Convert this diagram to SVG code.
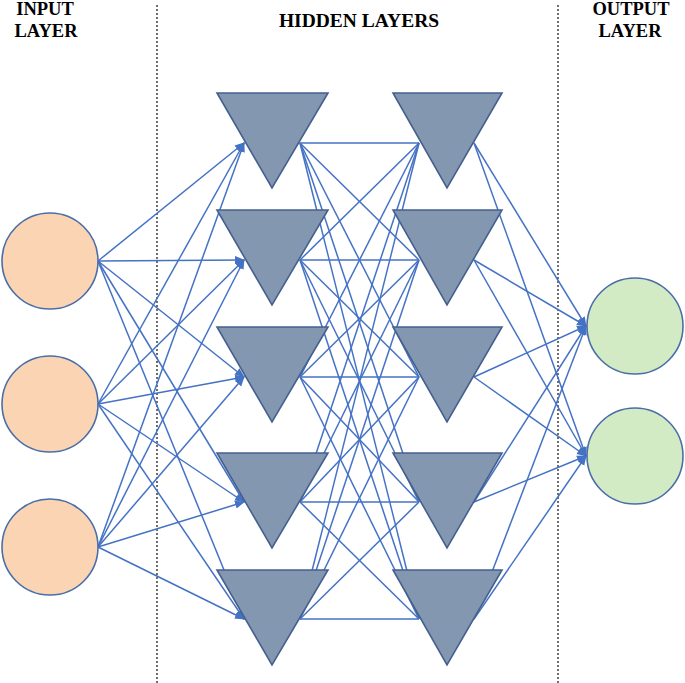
<svg xmlns="http://www.w3.org/2000/svg" width="685" height="683" viewBox="0 0 685 683">
<style>
.t{font-family:"Liberation Serif","Times New Roman",serif;font-weight:bold;fill:#000;text-anchor:middle}
.in{fill:#FBD4B4;stroke:#4A6EA8;stroke-width:1.6}
.out{fill:#D3EBC4;stroke:#4A6EA8;stroke-width:1.6}
.tri{fill:#8497B0;stroke:#44608F;stroke-width:1.6}
.c line{stroke:#4472C4;stroke-width:1.5}
.a{marker-end:url(#ah)}
.sep{stroke:#222;stroke-width:1.3;stroke-dasharray:2 2}
</style>
<defs>
<marker id="ah" markerUnits="userSpaceOnUse" markerWidth="10" markerHeight="10" viewBox="0 0 10 10" refX="9" refY="5" orient="auto">
<path d="M0,1 L10,5 L0,9 z" fill="#4472C4"/>
</marker>
</defs>
<rect width="685" height="683" fill="#fff"/>
<g id="labels">
<text class="t" x="45" y="15" font-size="18.5">INPUT</text>
<text class="t" x="46" y="37" font-size="18.5">LAYER</text>
<text class="t" x="359" y="27" font-size="19.5">HIDDEN LAYERS</text>
<text class="t" x="631" y="15" font-size="18.5">OUTPUT</text>
<text class="t" x="630" y="37" font-size="18.5">LAYER</text>
</g>
<g id="separators">
<line class="sep" x1="157" y1="5" x2="157" y2="683"/>
<line class="sep" x1="558" y1="5" x2="558" y2="683"/>
</g>
<g id="connectors" class="c">
<line class="a" x1="98" y1="261" x2="244" y2="143"/>
<line class="a" x1="98" y1="261" x2="244" y2="260"/>
<line class="a" x1="98" y1="261" x2="244" y2="377"/>
<line class="a" x1="98" y1="261" x2="244" y2="502"/>
<line class="a" x1="98" y1="261" x2="244" y2="619"/>
<line class="a" x1="98" y1="404" x2="244" y2="143"/>
<line class="a" x1="98" y1="404" x2="244" y2="260"/>
<line class="a" x1="98" y1="404" x2="244" y2="377"/>
<line class="a" x1="98" y1="404" x2="244" y2="502"/>
<line class="a" x1="98" y1="404" x2="244" y2="619"/>
<line class="a" x1="98" y1="547" x2="244" y2="143"/>
<line class="a" x1="98" y1="547" x2="244" y2="260"/>
<line class="a" x1="98" y1="547" x2="244" y2="377"/>
<line class="a" x1="98" y1="547" x2="244" y2="502"/>
<line class="a" x1="98" y1="547" x2="244" y2="619"/>
<line x1="300" y1="143" x2="419" y2="143"/>
<line x1="300" y1="143" x2="419" y2="260"/>
<line x1="300" y1="143" x2="419" y2="377"/>
<line x1="300" y1="143" x2="419" y2="502"/>
<line x1="300" y1="143" x2="419" y2="619"/>
<line x1="300" y1="260" x2="419" y2="143"/>
<line x1="300" y1="260" x2="419" y2="260"/>
<line x1="300" y1="260" x2="419" y2="377"/>
<line x1="300" y1="260" x2="419" y2="502"/>
<line x1="300" y1="260" x2="419" y2="619"/>
<line x1="300" y1="377" x2="419" y2="143"/>
<line x1="300" y1="377" x2="419" y2="260"/>
<line x1="300" y1="377" x2="419" y2="377"/>
<line x1="300" y1="377" x2="419" y2="502"/>
<line x1="300" y1="377" x2="419" y2="619"/>
<line x1="300" y1="502" x2="419" y2="143"/>
<line x1="300" y1="502" x2="419" y2="260"/>
<line x1="300" y1="502" x2="419" y2="377"/>
<line x1="300" y1="502" x2="419" y2="502"/>
<line x1="300" y1="502" x2="419" y2="619"/>
<line x1="300" y1="619" x2="419" y2="143"/>
<line x1="300" y1="619" x2="419" y2="260"/>
<line x1="300" y1="619" x2="419" y2="377"/>
<line x1="300" y1="619" x2="419" y2="502"/>
<line x1="300" y1="619" x2="419" y2="619"/>
<line class="a" x1="474" y1="143" x2="586" y2="326"/>
<line class="a" x1="474" y1="143" x2="586" y2="456"/>
<line class="a" x1="474" y1="260" x2="586" y2="326"/>
<line class="a" x1="474" y1="260" x2="586" y2="456"/>
<line class="a" x1="474" y1="377" x2="586" y2="326"/>
<line class="a" x1="474" y1="377" x2="586" y2="456"/>
<line class="a" x1="474" y1="502" x2="586" y2="326"/>
<line class="a" x1="474" y1="502" x2="586" y2="456"/>
<line class="a" x1="474" y1="619" x2="586" y2="326"/>
<line class="a" x1="474" y1="619" x2="586" y2="456"/>
</g>
<g id="input1"><circle class="in" cx="50" cy="261" r="48"/></g>
<g id="input2"><circle class="in" cx="50" cy="404" r="48"/></g>
<g id="input3"><circle class="in" cx="50" cy="547" r="48"/></g>
<g id="h1n1"><polygon class="tri" points="217,93 328,93 272,188"/></g>
<g id="h1n2"><polygon class="tri" points="217,210 328,210 272,305"/></g>
<g id="h1n3"><polygon class="tri" points="217,327 328,327 272,422"/></g>
<g id="h1n4"><polygon class="tri" points="217,453 328,453 272,548"/></g>
<g id="h1n5"><polygon class="tri" points="217,570 328,570 272,665"/></g>
<g id="h2n1"><polygon class="tri" points="393,93 502,93 447,188"/></g>
<g id="h2n2"><polygon class="tri" points="393,210 502,210 447,305"/></g>
<g id="h2n3"><polygon class="tri" points="393,327 502,327 447,422"/></g>
<g id="h2n4"><polygon class="tri" points="393,453 502,453 447,548"/></g>
<g id="h2n5"><polygon class="tri" points="393,570 502,570 447,665"/></g>
<g id="output1"><circle class="out" cx="635" cy="326" r="48"/></g>
<g id="output2"><circle class="out" cx="635" cy="456" r="48"/></g>
</svg>
